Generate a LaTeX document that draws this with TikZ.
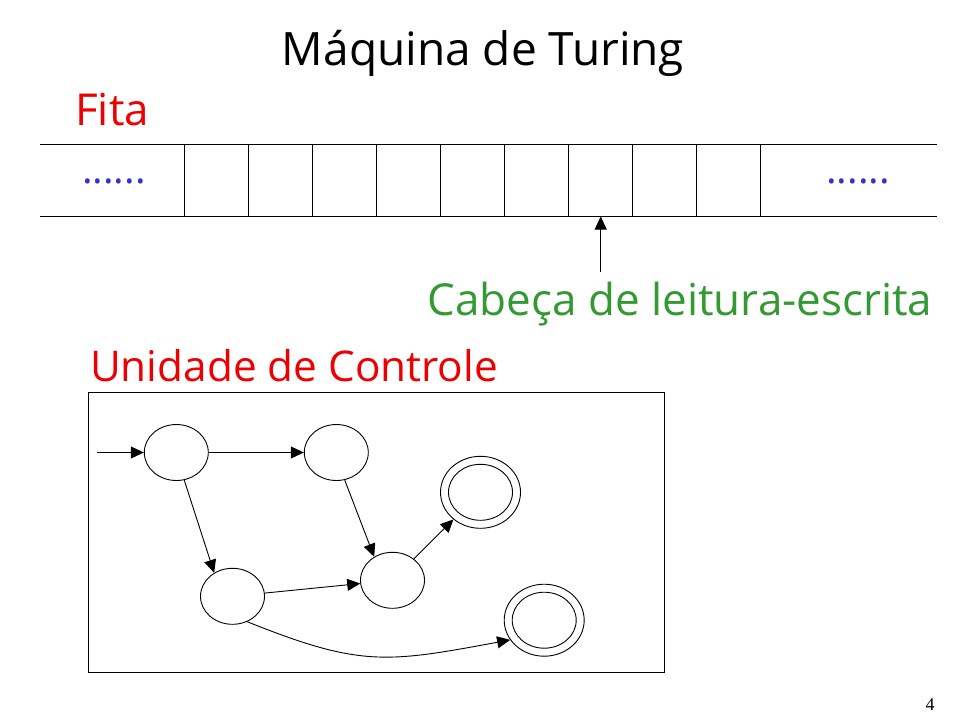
\documentclass[tikz,border=0pt]{standalone}
\usepackage{fontspec}
\setmainfont{Open Sans}
\newfontfamily\numfont{Liberation Serif}
\usetikzlibrary{arrows.meta,shapes.geometric}
\definecolor{tred}{HTML}{EE0000}
\definecolor{tgreen}{HTML}{339933}
\definecolor{tblue}{HTML}{3333CC}
\begin{document}
\begin{tikzpicture}[x=1pt,y=-1pt,
  tip/.style={-{Triangle[length=13pt,width=12pt]}},
  conn/.style={tip,line width=0.9pt},
  state/.style={ellipse,draw,line width=0.9pt,minimum width=64pt,minimum height=56pt,inner sep=0pt},
  outerst/.style={ellipse,draw,line width=0.9pt,minimum width=80pt,minimum height=72pt,inner sep=0pt},
  bigtext/.style={inner sep=0pt,font=\fontsize{44}{50}\selectfont},
  dots/.style={inner sep=0pt,anchor=base,text=tblue,font=\fontsize{40}{44}\selectfont},
  tapeline/.style={line width=1.2pt}
]
\useasboundingbox (0,0) rectangle (960,720);
% title and labels
\node[bigtext,anchor=base,font=\fontsize{46}{52}\selectfont] (title) at (483,65) {Máquina de Turing};
\node[bigtext,anchor=base west,text=tred] (fita) at (75,125) {Fita};
\node[bigtext,anchor=base,text=tgreen] (cabeca) at (680,315) {Cabeça de leitura-escrita};
\node[bigtext,anchor=base west,text=tred,font=\fontsize{42.3}{48}\selectfont] (unidade) at (90,381) {Unidade de Controle};
\node[inner sep=0pt,anchor=base,font=\numfont\fontsize{18}{20}\selectfont] (pnum) at (930,710) {4};
% tape
\draw[tapeline] (40,144.3) -- (937,144.3);
\draw[tapeline] (40,216.3) -- (937,216.3);
\foreach \x in {184.3,248.3,312.3,376.3,440.3,504.3,568.3,632.3,696.3,760.3}
  \draw[tapeline] (\x,144.3) -- (\x,216.3);
\node[dots] (ldots) at (114,183) {......};
\node[dots] (rdots) at (858,183) {......};
\coordinate (headtip) at (600.7,216.5);
\coordinate (headfoot) at (600.7,272);
\draw[conn] (headfoot) -- (headtip);
% control unit box
\draw[line width=1pt] (88.3,392.3) rectangle (664.3,672);
% states
\node[state] (A) at (176.3,452.5) {};
\node[state] (B) at (336.3,452.5) {};
\node[state] (C) at (232.5,596.3) {};
\node[state] (D) at (392.5,580.3) {};
\node[outerst] (E) at (480.5,492.3) {};
\node[state] (Ein) at (480.5,492.3) {};
\node[outerst] (F) at (544.2,620.2) {};
\node[state] (Fin) at (544.2,620.2) {};
\coordinate (init) at (96.7,452.5);
% transitions
\draw[conn] (init) -- (A);
\draw[conn] (A) -- (B);
\draw[conn] (A.-74) -- (C.128);
\draw[conn] (B.-73) -- (D.128);
\draw[conn] (C) -- (D);
\draw[conn] (D) -- (E);
\draw[conn] (C.-60) .. controls (360,667) and (386,663) .. (F.210);
\end{tikzpicture}
\end{document}
